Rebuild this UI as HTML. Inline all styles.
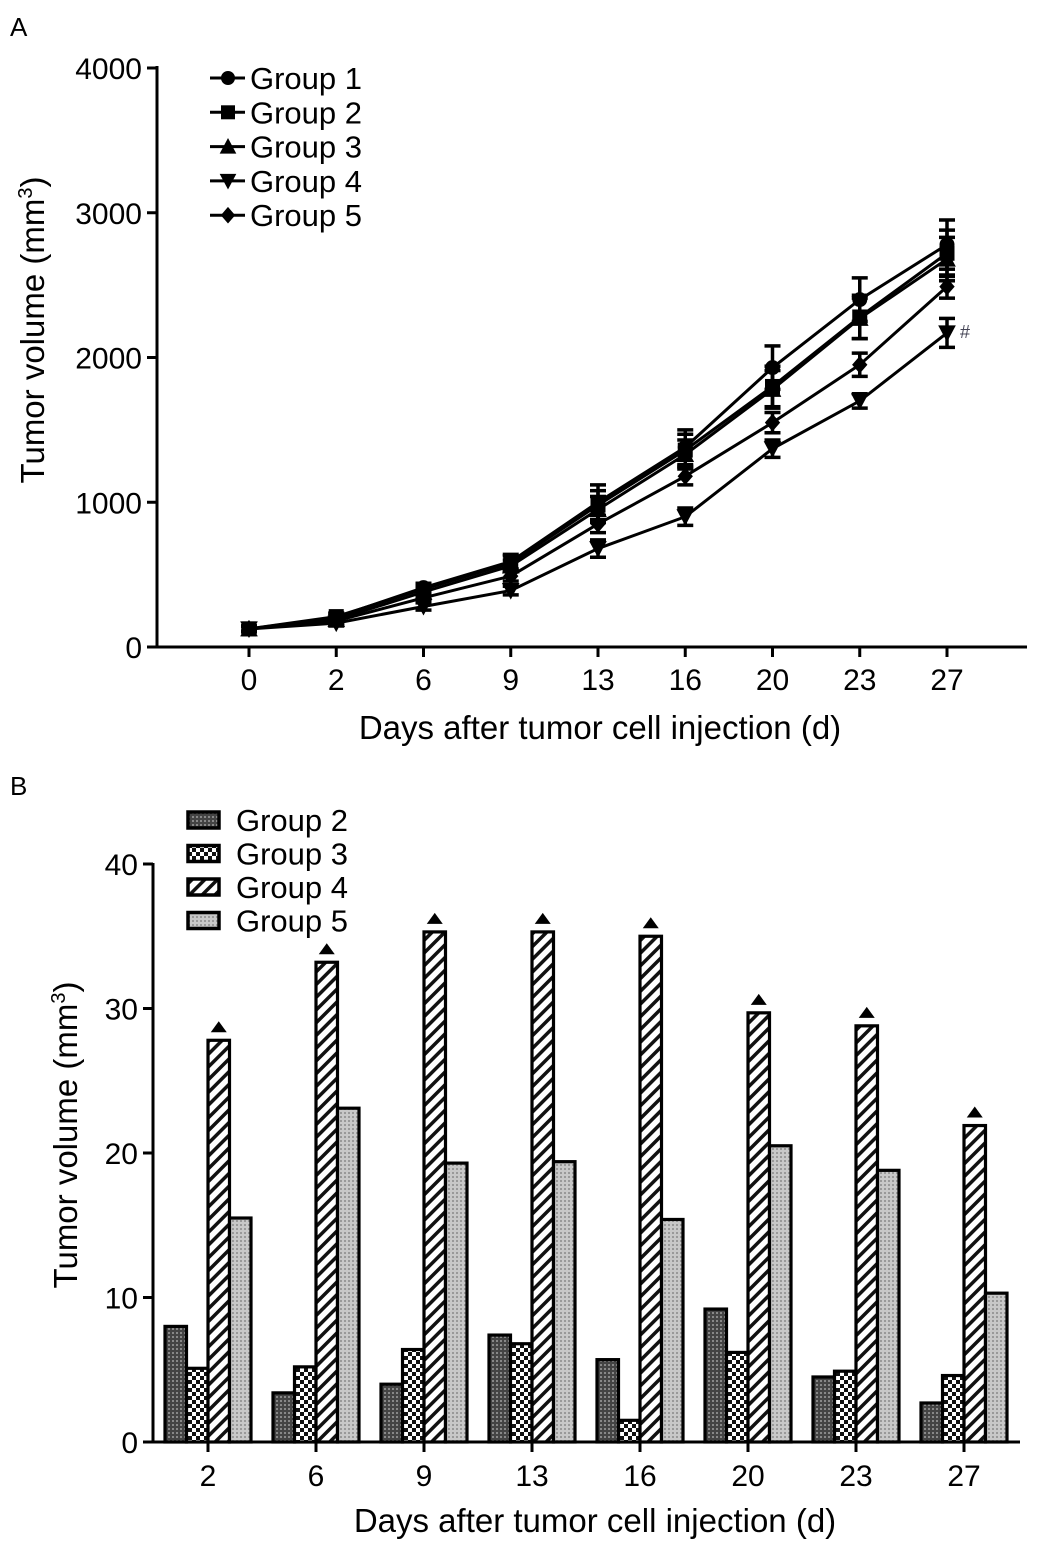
<!DOCTYPE html>
<html><head><meta charset="utf-8">
<style>
html,body{margin:0;padding:0;background:#fff;}
svg{display:block;font-family:"Liberation Sans",Arial,sans-serif;}
</style></head>
<body>
<svg id="fig" width="1039" height="1550" viewBox="0 0 1039 1550" xmlns="http://www.w3.org/2000/svg">
<defs>
<pattern id="p2" width="4" height="4" patternUnits="userSpaceOnUse"><rect width="4" height="4" fill="#444"/><rect width="2" height="2" fill="#888"/></pattern>
<pattern id="p3" width="8" height="8" patternUnits="userSpaceOnUse"><rect width="8" height="8" fill="#fff"/><rect width="4" height="4" fill="#111"/><rect x="4" y="4" width="4" height="4" fill="#111"/></pattern>
<pattern id="p4" width="9" height="9" patternUnits="userSpaceOnUse" patternTransform="rotate(45)"><rect width="9" height="9" fill="#fff"/><rect width="3.5" height="9" fill="#111"/></pattern>
<pattern id="p5" width="4" height="4" patternUnits="userSpaceOnUse"><rect width="4" height="4" fill="#c8c8c8"/><rect width="2" height="2" fill="#999"/></pattern>
</defs>
<text x="10" y="36" font-size="26">A</text>
<text x="10" y="795" font-size="26">B</text>
<g id="chartA"></g>
<g id="chartB"></g>
</svg>
<script>
// ---- Panel A data ----
const daysA = ["0","2","6","9","13","16","20","23","27"];
const g1 = [125,205,410,590,1000,1380,1930,2400,2780];
const g2 = [125,210,400,580,980,1360,1800,2280,2720];
const g3 = [125,190,380,560,950,1330,1780,2270,2680];
const g4 = [125,165,280,390,680,900,1370,1700,2170];
const g5 = [125,180,340,490,850,1180,1550,1950,2490];
const e1 = [20,25,30,50,120,120,150,150,170];
const e2 = [20,25,30,50,100,110,140,150,160];
const e3 = [20,25,30,40,90,100,130,140,150];
const e4 = [15,20,25,30,60,60,60,50,100];
const e5 = [15,20,25,35,60,60,70,80,80];
const yTicksA = [0,1000,2000,3000,4000];
// ---- Panel B data ----
const daysB = ["2","6","9","13","16","20","23","27"];
const b2 = [8.0,3.4,4.0,7.4,5.7,9.2,4.5,2.7];
const b3 = [5.1,5.2,6.4,6.8,1.5,6.2,4.9,4.6];
const b4 = [27.8,33.2,35.3,35.3,35.0,29.7,28.8,21.9];
const b5 = [15.5,23.1,19.3,19.4,15.4,20.5,18.8,10.3];
const yTicksB = [0,10,20,30,40];

const NS="http://www.w3.org/2000/svg";
function mk(parent,tag,attrs,text){const e=document.createElementNS(NS,tag);for(const k in attrs)e.setAttribute(k,attrs[k]);if(text!==undefined)e.textContent=text;parent.appendChild(e);return e;}

// ===== Panel A =====
const A=document.getElementById('chartA');
const ax0=157, ay0=647, ayPer=(647-68)/4000;
const yA=v=>ay0-v*ayPer;
const xA=i=>249+i*87.25;
let el;
el=mk(A,'line',{x1:ax0,y1:ay0,x2:1027,y2:ay0,stroke:'#000','stroke-width':3});


el=mk(A,'line',{x1:ax0,y1:ay0+1,x2:ax0,y2:66,stroke:'#000','stroke-width':3});


yTicksA.forEach(t=>{
  mk(A,'line',{x1:ax0-10,y1:yA(t),x2:ax0,y2:yA(t),stroke:'#000','stroke-width':3});
  el=mk(A,'text',{x:ax0-15,y:yA(t)+11,'font-size':30,'text-anchor':'end'},String(t));
  
  
});
daysA.forEach((d,i)=>{
  mk(A,'line',{x1:xA(i),y1:ay0,x2:xA(i),y2:ay0+10,stroke:'#000','stroke-width':3});
  el=mk(A,'text',{x:xA(i),y:690,'font-size':30,'text-anchor':'middle'},d);
  
  
});
el=mk(A,'text',{x:600,y:739,'font-size':33,'text-anchor':'middle'},'Days after tumor cell injection (d)');


el=mk(A,'text',{transform:'translate(44,330) rotate(-90)','font-size':33,'text-anchor':'middle'});
el.innerHTML='Tumor volume (mm<tspan dy="-12" font-size="20">3</tspan><tspan dy="12">)</tspan>';



function marker(g,shape,x,y,s){
  s=s||7;
  if(shape==='circle') return mk(g,'circle',{cx:x,cy:y,r:s});
  if(shape==='square') return mk(g,'rect',{x:x-s,y:y-s,width:2*s,height:2*s});
  if(shape==='up') return mk(g,'polygon',{points:`${x},${y-s-1} ${x-s-1},${y+s} ${x+s+1},${y+s}`});
  if(shape==='down') return mk(g,'polygon',{points:`${x},${y+s+1} ${x-s-1},${y-s} ${x+s+1},${y-s}`});
  return mk(g,'polygon',{points:`${x},${y-s-1} ${x+s},${y} ${x},${y+s+1} ${x-s},${y}`});
}
const seriesA=[[g1,e1,'circle','Group 1'],[g2,e2,'square','Group 2'],[g3,e3,'up','Group 3'],[g4,e4,'down','Group 4'],[g5,e5,'diamond','Group 5']];
seriesA.forEach((s,si)=>{
  const g=mk(A,'g',{fill:'#000',stroke:'#000'});
  
  
  const pts=s[0].map((v,i)=>xA(i)+','+yA(v)).join(' ');
  mk(g,'polyline',{points:pts,fill:'none','stroke-width':3});
  s[0].forEach((v,i)=>{
    const x=xA(i),e=s[1][i];
    mk(g,'line',{x1:x,y1:yA(v-e),x2:x,y2:yA(v+e),'stroke-width':3.5});
    mk(g,'line',{x1:x-8,y1:yA(v-e),x2:x+8,y2:yA(v-e),'stroke-width':3.5});
    mk(g,'line',{x1:x-8,y1:yA(v+e),x2:x+8,y2:yA(v+e),'stroke-width':3.5});
    const m=marker(g,s[2],x,yA(v),7);
    
    
  });
  const ly=78+si*34.3;
  const lg=mk(A,'g',{fill:'#000',stroke:'#000'});
  
  
  mk(lg,'line',{x1:210,y1:ly,x2:245,y2:ly,'stroke-width':3});
  marker(lg,s[2],228,ly,6.5);
  mk(lg,'text',{x:250,y:ly+11,'font-size':31,stroke:'none'},s[3]);
});
el=mk(A,'text',{x:960,y:338,'font-size':18,fill:'#445'},'#');



// ===== Panel B =====
const B=document.getElementById('chartB');
const bx0=153, by0=1442, byPer=(1442-864)/40;
const yB=v=>by0-v*byPer;
const xB=i=>208+i*108;
el=mk(B,'line',{x1:bx0,y1:by0,x2:1020,y2:by0,stroke:'#000','stroke-width':3});


el=mk(B,'line',{x1:bx0,y1:by0+1,x2:bx0,y2:863,stroke:'#000','stroke-width':3});


yTicksB.forEach(t=>{
  mk(B,'line',{x1:bx0-10,y1:yB(t),x2:bx0,y2:yB(t),stroke:'#000','stroke-width':3});
  el=mk(B,'text',{x:bx0-15,y:yB(t)+11,'font-size':30,'text-anchor':'end'},String(t));
  
  
});
daysB.forEach((d,i)=>{
  mk(B,'line',{x1:xB(i),y1:by0,x2:xB(i),y2:by0+10,stroke:'#000','stroke-width':3});
  el=mk(B,'text',{x:xB(i),y:1486,'font-size':30,'text-anchor':'middle'},d);
  
  
});
el=mk(B,'text',{x:595,y:1532,'font-size':33,'text-anchor':'middle'},'Days after tumor cell injection (d)');


el=mk(B,'text',{transform:'translate(77,1135) rotate(-90)','font-size':33,'text-anchor':'middle'});
el.innerHTML='Tumor volume (mm<tspan dy="-12" font-size="20">3</tspan><tspan dy="12">)</tspan>';



const seriesB=[[b2,'p2','Group 2'],[b3,'p3','Group 3'],[b4,'p4','Group 4'],[b5,'p5','Group 5']];
const bw=21.5;
seriesB.forEach((s,si)=>{
  s[0].forEach((v,i)=>{
    const x=xB(i)-43+si*bw;
    const r=mk(B,'rect',{x:x,y:yB(v),width:bw,height:by0-yB(v),fill:'url(#'+s[1]+')',stroke:'#000','stroke-width':3.2});
    
    
    if(si===2){
      const cx=x+bw/2,ty=yB(v)-8;
      const t=mk(B,'polygon',{points:`${cx},${ty-11} ${cx-8},${ty} ${cx+8},${ty}`,fill:'#000'});
      
      
    }
  });
  const ly=820+si*33.5;
  const lg=mk(B,'g',{});
  
  
  mk(lg,'rect',{x:188,y:ly-8,width:31,height:16,fill:'url(#'+s[1]+')',stroke:'#000','stroke-width':3.5});
  mk(lg,'text',{x:236,y:ly+11,'font-size':31},s[2]);
});
</script>
</body></html>
